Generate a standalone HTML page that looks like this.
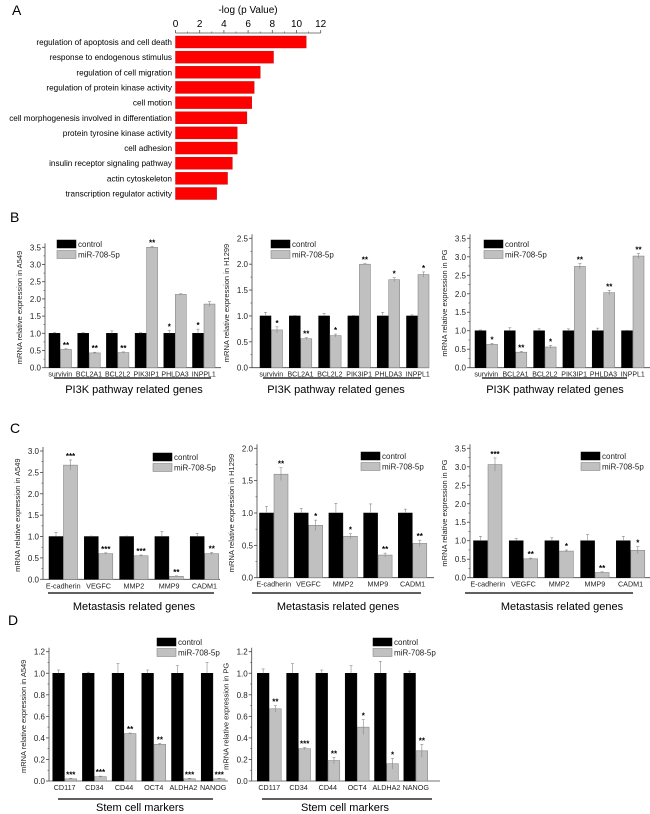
<!DOCTYPE html>
<html><head><meta charset="utf-8"><style>
html,body{margin:0;padding:0;background:#fff}
svg{display:block;font-family:"Liberation Sans",Arial,sans-serif}
</style></head><body>
<svg id="fig" width="650" height="814" viewBox="0 0 650 814"></svg>
<script>
// ---- Panel A data ----
const goTerms = ["regulation of apoptosis and cell death","response to endogenous stimulus","regulation of cell migration","regulation of protein kinase activity","cell motion","cell morphogenesis involved in differentiation","protein tyrosine kinase activity","cell adhesion","insulin receptor signaling pathway","actin cytoskeleton","transcription regulator activity"];
const goValues = [10.8,8.1,7.0,6.5,6.3,5.9,5.1,5.1,4.7,4.3,3.4];
const goTicks = [0,2,4,6,8,10,12];

// ---- Panel B data ----
const pi3kGenes = ["survivin","BCL2A1","BCL2L2","PIK3IP1","PHLDA3","INPPL1"];
const bA549Ctrl = [1,1,1,1,1,1];
const bA549CtrlErr = [0.02,0.02,0.07,0.02,0.08,0.12];
const bA549Mir = [0.53,0.43,0.44,3.5,2.13,1.85];
const bA549MirErr = [0.02,0.02,0.02,0.03,0.02,0.07];
const bA549CtrlStars = ["","","","","*","*"];
const bA549MirStars = ["**","**","**","**","",""];
const bH1299Ctrl = [1,1,1,1,1,1];
const bH1299CtrlErr = [0.07,0.01,0.05,0.01,0.07,0.02];
const bH1299Mir = [0.73,0.56,0.62,2.0,1.7,1.8];
const bH1299MirErr = [0.06,0.02,0.03,0.01,0.04,0.05];
const bH1299MirStars = ["*","**","*","**","*","*"];
const bPGCtrl = [1,1,1,1,1,1];
const bPGCtrlErr = [0.02,0.08,0.05,0.05,0.07,0.01];
const bPGMir = [0.63,0.42,0.56,2.74,2.03,3.02];
const bPGMirErr = [0.03,0.02,0.04,0.08,0.06,0.07];
const bPGMirStars = ["*","**","*","**","**","**"];

// ---- Panel C data ----
const metGenes = ["E-cadherin","VEGFC","MMP2","MMP9","CADM1"];
const cA549Ctrl = [1,1,1,1,1];
const cA549CtrlErr = [0.1,0.01,0.01,0.12,0.07];
const cA549Mir = [2.67,0.6,0.55,0.07,0.6];
const cA549MirErr = [0.12,0.02,0.02,0.01,0.03];
const cA549MirStars = ["***","***","***","**","**"];
const cH1299Ctrl = [1,1,1,1,1];
const cH1299CtrlErr = [0.1,0.07,0.15,0.14,0.06];
const cH1299Mir = [1.6,0.81,0.64,0.35,0.53];
const cH1299MirErr = [0.1,0.08,0.04,0.03,0.05];
const cH1299MirStars = ["**","*","*","**","**"];
const cPGCtrl = [1,1,1,1,1];
const cPGCtrlErr = [0.12,0.06,0.08,0.17,0.12];
const cPGMir = [3.06,0.51,0.72,0.14,0.74];
const cPGMirErr = [0.18,0.02,0.03,0.02,0.1];
const cPGMirStars = ["***","**","*","**","*"];

// ---- Panel D data ----
const stemGenes = ["CD117","CD34","CD44","OCT4","ALDHA2","NANOG"];
const dA549Ctrl = [1,1,1,1,1,1];
const dA549CtrlErr = [0.03,0.01,0.09,0.03,0.07,0.1];
const dA549Mir = [0.02,0.04,0.44,0.34,0.02,0.02];
const dA549MirErr = [0.005,0.005,0.005,0.01,0.005,0.005];
const dA549MirStars = ["***","***","**","**","***","***"];
const dPGCtrl = [1,1,1,1,1,1];
const dPGCtrlErr = [0.04,0.09,0.03,0.07,0.11,0.02];
const dPGMir = [0.67,0.3,0.19,0.5,0.16,0.28];
const dPGMirErr = [0.03,0.01,0.03,0.07,0.05,0.06];
const dPGMirStars = ["**","***","**","*","*","**"];

const NS="http://www.w3.org/2000/svg";
const fig=document.getElementById('fig');
function mk(tag,attrs,parent,txt){const e=document.createElementNS(NS,tag);for(const k in attrs)e.setAttribute(k,attrs[k]);if(txt!==undefined)e.textContent=txt;(parent||fig).appendChild(e);return e;}

function label(x,y,t,name){
  const e=mk('text',{x:x,y:y,'font-size':14,fill:'#000'},fig,t);
  
  
}
label(12,15,'A','panel-a-label');
label(10,222,'B','panel-b-label');
label(10,433,'C','panel-c-label');
label(8,625,'D','panel-d-label');

// ---- Panel A chart ----
(function(){
  const g=mk('g',{});
  
  
  const x0=175.5,x1=320.7,vmax=12;
  const sx=v=>x0+(v/vmax)*(x1-x0);
  const ay=33, firstC=42, step=15.15, bh=12;
  mk('line',{x1:x0,y1:ay,x2:x1,y2:ay,stroke:'#555','stroke-width':0.8},g);
  goTicks.forEach(t=>{
    mk('line',{x1:sx(t),y1:ay,x2:sx(t),y2:ay-3,stroke:'#555','stroke-width':0.8},g);
    const tl=mk('text',{x:sx(t),y:ay-6,'font-size':10,'text-anchor':'middle'},g,t);
    
    
    if(t<vmax)mk('line',{x1:sx(t+1),y1:ay,x2:sx(t+1),y2:ay-1.5,stroke:'#555','stroke-width':0.6},g);
  });
  const tt=mk('text',{x:248,y:13,'font-size':10,'text-anchor':'middle'},g,'-log (p Value)');
  
  
  goValues.forEach((v,i)=>{
    const cy=firstC+i*step;
    const r=mk('rect',{x:x0,y:cy-bh/2,width:sx(v)-x0,height:bh,fill:'#f00',stroke:'#b00','stroke-width':0.4},g);
    
    
    const t=mk('text',{x:172,y:cy+3,'font-size':8.2,'text-anchor':'end'},g,goTerms[i]);
    
    
  });
})();

function barChart(c){
  const g=mk('g',{});
  
  
  const sy=v=>c.y0-(v/c.ymax)*(c.y0-c.ytop);
  mk('line',{x1:c.ax,y1:c.ytop-4,x2:c.ax,y2:c.y0,stroke:'#444','stroke-width':0.8},g);
  mk('line',{x1:c.ax,y1:c.y0,x2:c.xend,y2:c.y0,stroke:'#444','stroke-width':0.8},g);
  const nT=Math.round(c.ymax/c.tstep);
  for(let i=0;i<=nT;i++){
    const v=i*c.tstep,y=sy(v);
    mk('line',{x1:c.ax-3,y1:y,x2:c.ax,y2:y,stroke:'#444','stroke-width':0.8},g);
    if(i<nT)mk('line',{x1:c.ax-1.5,y1:sy(v+c.tstep/2),x2:c.ax,y2:sy(v+c.tstep/2),stroke:'#444','stroke-width':0.6},g);
    const tl=mk('text',{x:c.ax-4,y:y+3,'font-size':8,'text-anchor':'end',fill:'#222'},g,v.toFixed(1));
    
    
  }
  const yt=mk('text',{x:0,y:0,'font-size':7.5,'text-anchor':'middle',fill:'#222',transform:`translate(${c.ax-23},${(c.y0+c.ytop)/2}) rotate(-90)`},g,c.ytitle);
  
  
  c.cats.forEach((cat,i)=>{
    const gx=c.bx+i*c.step;
    [[c.ctrl,c.ctrlErr,c.ctrlStars,'#000','control'],[c.mir,c.mirErr,c.mirStars,'#c0c0c0','mir']].forEach((s,k)=>{
      const x=gx+k*(c.bw+0.5), v=s[0][i], e=s[1][i];
      const r=mk('rect',{x:x,y:sy(v),width:c.bw,height:c.y0-sy(v),fill:s[3],stroke:k?'#777':'#000','stroke-width':0.5},g);
      
      
      const cx=x+c.bw/2;
      mk('line',{x1:cx,y1:sy(v+e),x2:cx,y2:sy(v-(k?e:0)),stroke:'#888','stroke-width':0.6},g);
      mk('line',{x1:cx-1.5,y1:sy(v+e),x2:cx+1.5,y2:sy(v+e),stroke:'#888','stroke-width':0.6},g);
      const st=s[2]?s[2][i]:'';
      if(st){
        const sl=mk('text',{x:cx,y:sy(v+e)-1,'font-size':8,'font-weight':'bold','text-anchor':'middle'},g,st);
        
        
      }
    });
    const xl=mk('text',{x:gx+c.bw+0.25,y:c.y0+9,'font-size':c.xfs,'text-anchor':'middle',fill:'#222'},g,cat);
    
    
  });
  const lg=mk('g',{},g);
  
  
  [['#000','control'],['#c0c0c0','miR-708-5p']].forEach((s,k)=>{
    const y=c.ly+k*10.5;
    mk('rect',{x:c.lx,y:y,width:19,height:8,fill:s[0],stroke:k?'#777':'#000','stroke-width':0.5},lg);
    const t=mk('text',{x:c.lx+21,y:y+7,'font-size':8,fill:'#222'},lg,s[1]);
    
    
  });
  mk('line',{x1:c.ul[0],y1:c.uy,x2:c.ul[1],y2:c.uy,stroke:'#000','stroke-width':1.2},g);
  const gt=mk('text',{x:c.tx,y:c.ty,'font-size':11,'text-anchor':'middle'},g,c.title);
  
  
}

const B={cats:pi3kGenes,y0:367.7,tstep:0.5,xfs:7,uy:378,ty:393,title:'PI3K pathway related genes',bw:11};
barChart(Object.assign({},B,{name:'chart-b-a549',ax:45,ytop:247.3,ymax:3.5,xend:221,bx:49,step:28.7,ctrl:bA549Ctrl,ctrlErr:bA549CtrlErr,ctrlStars:bA549CtrlStars,mir:bA549Mir,mirErr:bA549MirErr,mirStars:bA549MirStars,ytitle:'mRNA relative expression in A549',lx:57,ly:240,ul:[54,211],tx:134}));
barChart(Object.assign({},B,{name:'chart-b-h1299',ax:252,ytop:238.3,ymax:2.5,xend:429,bx:260,step:29.3,ctrl:bH1299Ctrl,ctrlErr:bH1299CtrlErr,ctrlStars:null,mir:bH1299Mir,mirErr:bH1299MirErr,mirStars:bH1299MirStars,ytitle:'mRNA relative expression in H1299',lx:271,ly:240,ul:[263,421],tx:336}));
barChart(Object.assign({},B,{name:'chart-b-pg',ax:470,ytop:238.3,ymax:3.5,xend:650,bx:475,step:29.3,ctrl:bPGCtrl,ctrlErr:bPGCtrlErr,ctrlStars:null,mir:bPGMir,mirErr:bPGMirErr,mirStars:bPGMirStars,ytitle:'mRNA relative expression in PG',lx:484,ly:240,ul:[482,627],tx:555}));

const C={cats:metGenes,tstep:0.5,xfs:7.2,uy:593,ty:610,title:'Metastasis related genes',bw:14};
barChart(Object.assign({},C,{name:'chart-c-a549',ax:43,y0:579.3,ytop:451,ymax:3.0,xend:220,bx:49,step:35.3,ctrl:cA549Ctrl,ctrlErr:cA549CtrlErr,ctrlStars:null,mir:cA549Mir,mirErr:cA549MirErr,mirStars:cA549MirStars,ytitle:'mRNA relative expression in A549',lx:153,ly:453,ul:[48,214],tx:134}));
barChart(Object.assign({},C,{name:'chart-c-h1299',ax:257,y0:577.7,ytop:448.3,ymax:2.0,xend:434,bx:259.5,step:34.7,ctrl:cH1299Ctrl,ctrlErr:cH1299CtrlErr,ctrlStars:null,mir:cH1299Mir,mirErr:cH1299MirErr,mirStars:cH1299MirStars,ytitle:'mRNA relative expression in H1299',lx:361,ly:452,ul:[252,421],tx:338}));
barChart(Object.assign({},C,{name:'chart-c-pg',ax:470,y0:577.7,ytop:448.3,ymax:3.5,xend:650,bx:473.5,step:35.7,ctrl:cPGCtrl,ctrlErr:cPGCtrlErr,ctrlStars:null,mir:cPGMir,mirErr:cPGMirErr,mirStars:cPGMirStars,ytitle:'mRNA relative expression in PG',lx:581,ly:452,ul:[465,633],tx:562}));

const D={cats:stemGenes,tstep:0.2,xfs:7.2,uy:799,ty:811,title:'Stem cell markers',bw:11.7,y0:781,ytop:651.7,ymax:1.2};
barChart(Object.assign({},D,{name:'chart-d-a549',ax:49,xend:228,bx:52.7,step:29.7,ctrl:dA549Ctrl,ctrlErr:dA549CtrlErr,ctrlStars:null,mir:dA549Mir,mirErr:dA549MirErr,mirStars:dA549MirStars,ytitle:'mRNA relative expression in A549',lx:157,ly:638,ul:[58,213],tx:140}));
barChart(Object.assign({},D,{name:'chart-d-pg',ax:251.7,xend:440,bx:257.3,step:29.3,ctrl:dPGCtrl,ctrlErr:dPGCtrlErr,ctrlStars:null,mir:dPGMir,mirErr:dPGMirErr,mirStars:dPGMirStars,ytitle:'mRNA relative expression in PG',lx:373,ly:638,ul:[262,432],tx:345}));
</script>
</body></html>
